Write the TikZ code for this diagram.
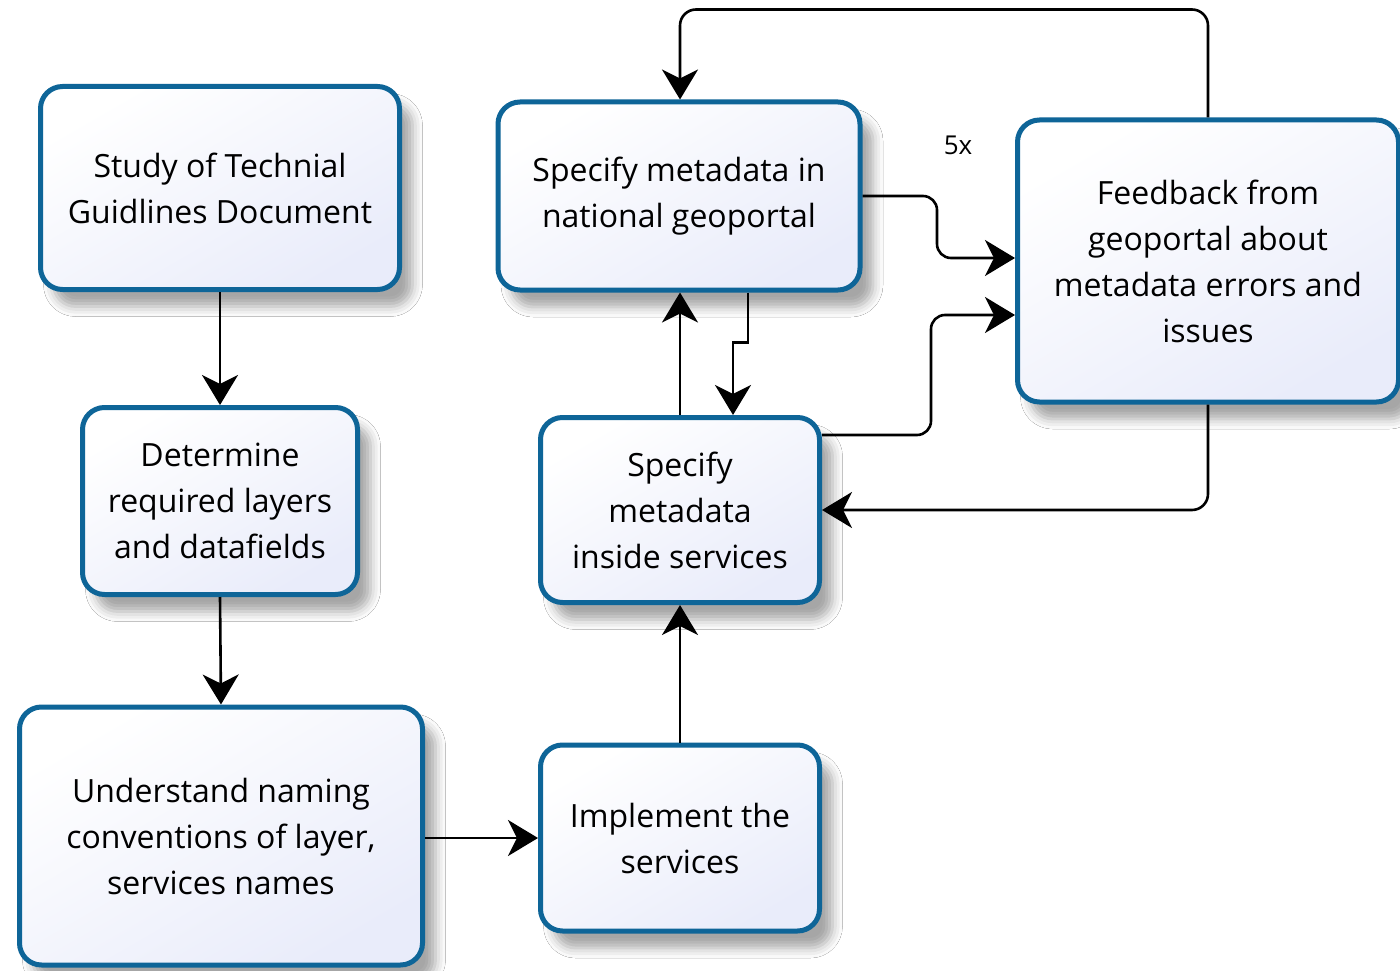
\documentclass[tikz,border=0pt]{standalone}
\usepackage{fontspec}
\setmainfont{Open Sans}
\usetikzlibrary{arrows.meta,calc,shadows.blur}
\definecolor{boxline}{HTML}{0E6598}
\definecolor{boxfill}{HTML}{E9ECFA}
\tikzset{
  box/.style={draw=boxline, line width=5pt, rounded corners=22pt,
    top color=white, bottom color=boxfill, shading angle=30,
    align=center, font=\fontsize{32}{46}\selectfont, inner sep=0pt,
    blur shadow={shadow xshift=13pt, shadow yshift=-17pt, shadow blur radius=10pt, shadow opacity=35}},
  arr/.style={draw=black, line width=2.6pt, -{Stealth[length=30pt, width=36pt, inset=9pt]}},
}
\begin{document}
\begin{tikzpicture}[x=1pt, y=-1pt]
\useasboundingbox (0,0) rectangle (1400,971);
\fill[white] (0,0) rectangle (1400,971);

\node[box, minimum width=359pt, minimum height=203pt] (a) at (220,188) {Study of Technial\\Guidlines Document};
\node[box, minimum width=275pt, minimum height=187pt] (b) at (220,501) {Determine\\required layers\\and datafields};
\node[box, minimum width=403pt, minimum height=258pt] (c) at (221,836) {Understand naming\\conventions of layer,\\services names};
\node[box, minimum width=279pt, minimum height=186pt] (d) at (680,838) {Implement the\\services};
\node[box, minimum width=279pt, minimum height=185pt] (e) at (680,510) {Specify\\metadata\\inside services};
\node[box, minimum width=362pt, minimum height=188pt] (f) at (679,196) {Specify metadata in\\national geoportal};
\node[box, minimum width=381pt, minimum height=282pt] (g) at (1208,261) {Feedback from\\geoportal about\\metadata errors and\\issues};

\node[font=\fontsize{26}{30}\selectfont] (lbl) at (958,145) {5x};

\draw[arr] (a.south) -- (b.north);
\draw[arr] (b.south) -- (c.north);
\draw[arr] (c.east |- d.west) -- (d.west);
\draw[arr] (d.north) -- (e.south);
\draw[arr] (e.north) -- (f.south -| e.north);
\draw[arr] ($(f.south)+(69,0)$) -- ++(0,50) -| ($(e.north)+(53,0)$);
\draw[arr, rounded corners=14pt] (f.east) -| ($(g.west)+(-78,-3)$) -- ($(g.west)+(0,-3)$);
\draw[arr, rounded corners=14pt] ($(e.east)+(0,-75)$) -| ($(g.west)+(-84,54)$) -- ($(g.west)+(0,54)$);
\draw[arr, rounded corners=16pt] (g.north) -- ++(0,-108) -| (f.north -| e.north);
\draw[arr, rounded corners=16pt] (g.south) |- (e.east);
\end{tikzpicture}
\end{document}
